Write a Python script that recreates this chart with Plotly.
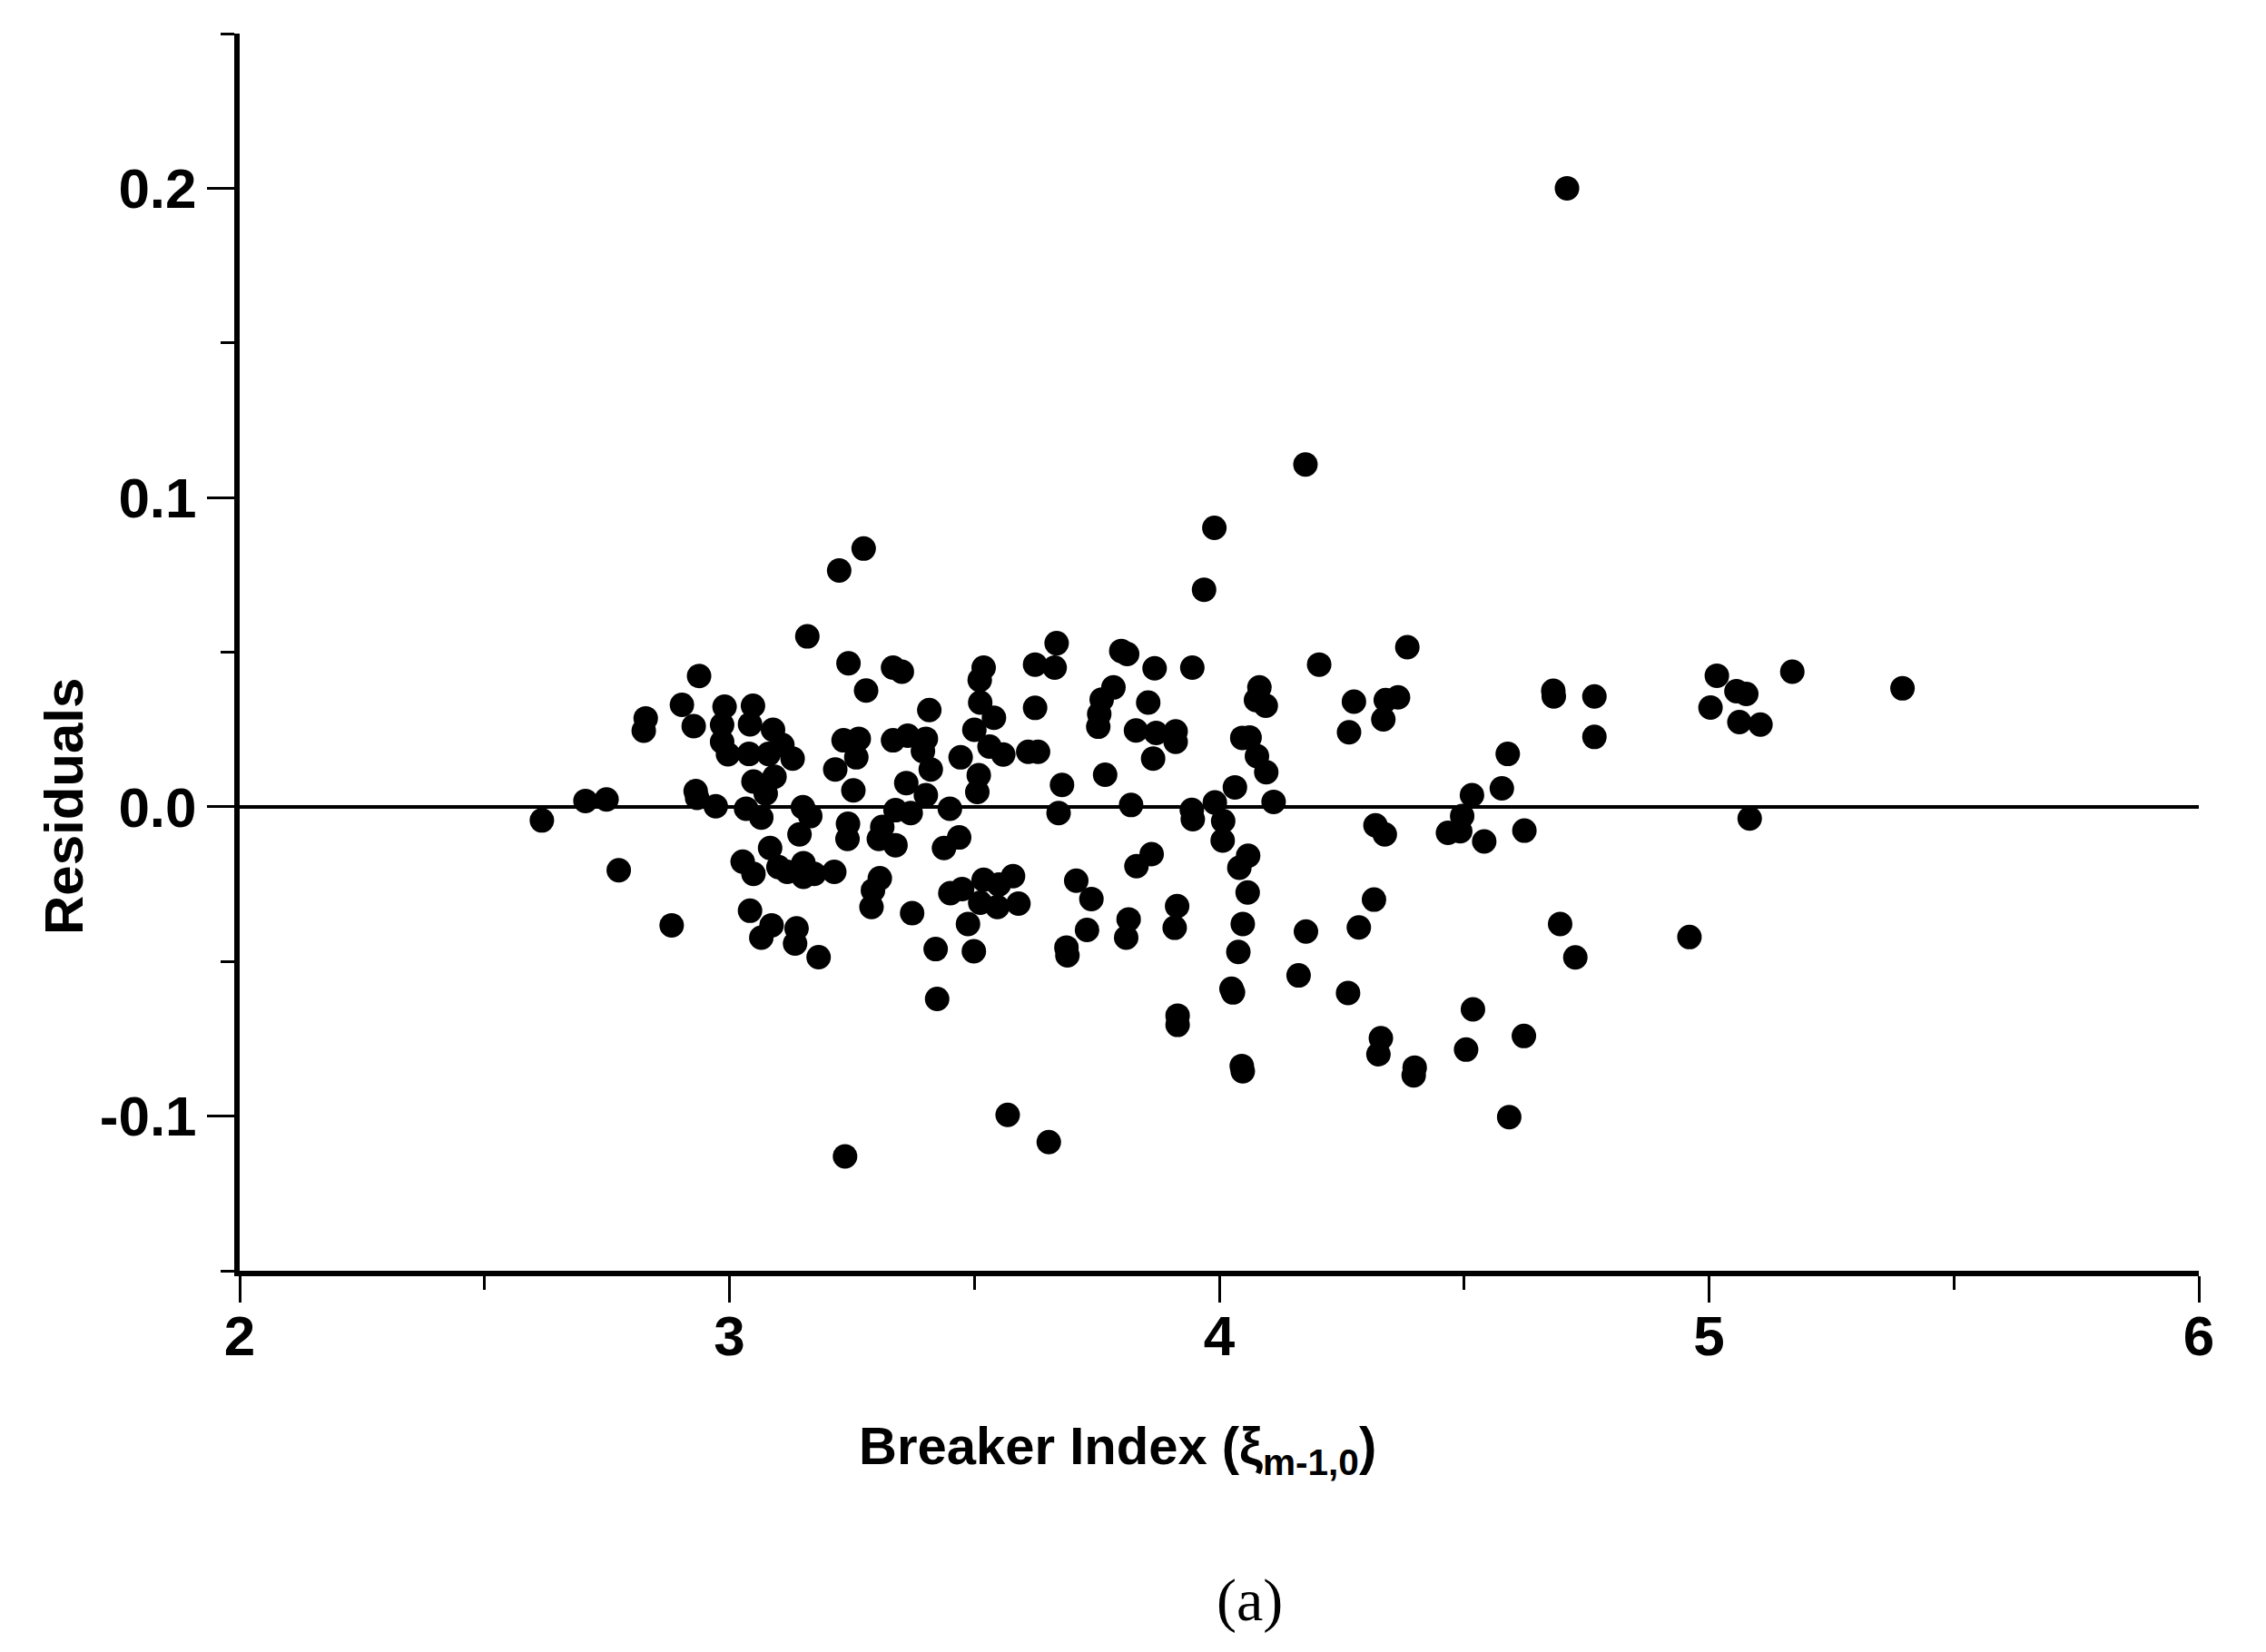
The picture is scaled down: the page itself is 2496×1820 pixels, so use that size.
import plotly.graph_objects as go

# Breaker index (x) and residuals (y)
breaker_index = [
    2.617, 2.706, 2.749, 2.774, 2.829, 2.825, 2.882, 2.903, 2.927, 2.938,
    2.931, 2.934, 2.972, 2.990, 2.985, 2.985, 2.997, 3.040, 3.048, 3.042,
    3.089, 3.108, 3.129, 3.080, 3.092, 3.049, 3.074, 3.034, 3.065, 3.150,
    3.165, 3.143, 3.159, 3.224, 3.274, 3.243, 3.279, 3.233, 3.264, 3.259,
    3.216, 3.253, 3.242, 3.241, 3.083, 3.027, 3.049, 3.100, 3.118, 3.151,
    3.151, 3.173, 3.214, 3.042, 3.086, 3.065, 3.137, 3.134, 3.182, 3.236,
    3.969, 3.668, 3.664, 3.624, 3.800, 3.812, 3.868, 3.945, 3.334, 3.352,
    3.519, 3.511, 3.512, 3.540, 3.500, 3.408, 3.624, 3.784, 3.760, 3.755,
    3.753, 3.855, 3.830, 3.871, 3.911, 3.911, 3.865, 3.767, 3.679, 3.672,
    3.820, 3.944, 3.946, 3.991, 4.008, 4.007, 3.334, 3.364, 3.401, 3.395,
    3.411, 3.361, 3.401, 3.339, 3.370, 3.450, 3.312, 3.305, 3.339, 3.469,
    3.438, 3.472, 3.531, 3.559, 3.509, 3.506, 3.610, 3.630, 3.862, 3.831,
    3.307, 3.293, 3.290, 3.373, 3.451, 3.475, 3.519, 3.550, 3.579, 3.512,
    3.547, 3.590, 3.487, 3.421, 3.499, 3.424, 3.568, 3.652, 3.708, 3.739,
    3.730, 3.688, 3.690, 3.815, 3.810, 3.914, 3.909, 3.915, 3.915,
    4.204, 4.384, 4.082, 4.075, 4.095, 4.275, 4.340, 4.365, 4.335, 4.265,
    4.047, 4.062, 4.077, 4.096, 4.032, 4.111, 4.059, 4.041, 4.319, 4.338,
    4.516, 4.496, 4.467, 4.492, 4.541, 4.577, 4.589, 4.623, 4.682, 4.683,
    4.058, 4.048, 4.039, 4.025, 4.028, 4.046, 4.048, 4.177, 4.162, 4.316,
    4.285, 4.263, 4.330, 4.325, 4.399, 4.397, 4.518, 4.504, 4.622, 4.592,
    4.696, 4.727, 4.766, 4.766, 5.016, 5.056, 5.076, 5.003, 5.062, 5.105,
    5.170, 5.395, 5.083, 4.960, 4.710, 4.176, 3.990,
]
residuals = [
    -0.0044, 0.0019, 0.0024, -0.0205, 0.0286, 0.0246, -0.0383, 0.0330, 0.0261, 0.0423,
    0.0051, 0.0029, 0.0002, 0.0324, 0.0265, 0.0210, 0.0170, 0.0171, 0.0327, 0.0267,
    0.0249, 0.0200, 0.0156, 0.0171, 0.0097, 0.0082, 0.0043, -0.0006, -0.0035, -0.0001,
    -0.0030, -0.0089, 0.0551, 0.0764, 0.0835, 0.0464, 0.0376, 0.0215, 0.0220, 0.0160,
    0.0121, 0.0053, -0.0055, -0.0104, -0.0133, -0.0177, -0.0217, -0.0195, -0.0210, -0.0182,
    -0.0226, -0.0217, -0.0210, -0.0336, -0.0383, -0.0423, -0.0393, -0.0442, -0.0486, -0.1130,
    0.0702, 0.0529, 0.0450, 0.0460, 0.0504, 0.0494, 0.0448, 0.0450, 0.0450, 0.0437,
    0.0450, 0.0410, 0.0337, 0.0288, 0.0249, 0.0313, 0.0320, 0.0386, 0.0347, 0.0300,
    0.0259, 0.0337, 0.0247, 0.0239, 0.0244, 0.0210, 0.0156, 0.0104, 0.0071, -0.0020,
    0.0006, -0.0010, -0.0040, 0.0014, -0.0046, -0.0109, 0.0215, 0.0230, 0.0220, 0.0180,
    0.0121, 0.0077, 0.0038, -0.0011, -0.0020, -0.0006, -0.0065, -0.0104, -0.0124, -0.0099,
    -0.0133, 0.0160, 0.0195, 0.0169, 0.0102, 0.0048, 0.0178, 0.0178, -0.0153, -0.0192,
    -0.0231, -0.0270, -0.0324, -0.0344, -0.0279, -0.0266, -0.0236, -0.0251, -0.0224, -0.0310,
    -0.0324, -0.0313, -0.0379, -0.0460, -0.0467, -0.0621, -0.0996, -0.1084, -0.0239, -0.0298,
    -0.0398, -0.0455, -0.0480, -0.0364, -0.0423, -0.0321, -0.0391, -0.0675, -0.0705,
    0.0460, 0.0516, 0.0386, 0.0345, 0.0327, 0.0340, 0.0345, 0.0354, 0.0283, 0.0241,
    0.0223, 0.0224, 0.0164, 0.0112, 0.0063, 0.0016, -0.0158, -0.0197, -0.0060, -0.0089,
    0.0038, -0.0030, -0.0084, -0.0079, -0.0112, 0.0060, 0.0171, -0.0077, 0.0375, 0.0357,
    -0.0277, -0.0379, -0.0469, -0.0588, -0.0600, -0.0838, -0.0855, -0.0403, -0.0545, -0.0300,
    -0.0390, -0.0602, -0.0748, -0.0800, -0.0843, -0.0868, -0.0655, -0.0785, -0.0741, -0.1003,
    -0.0379, -0.0487, 0.0357, 0.0226, 0.0424, 0.0374, 0.0365, 0.0321, 0.0274, 0.0266,
    0.0437, 0.0383, -0.0038, -0.0421, 0.2000, 0.1107, 0.0902,
]

x_ticks = [2, 3, 4, 5, 6]
x_tick_labels = ["2", "3", "4", "5", "6"]
x_minor = [2.5, 3.5, 4.5, 5.5]
y_ticks = [-0.1, 0.0, 0.1, 0.2]
y_tick_labels = ["-0.1", "0.0", "0.1", "0.2"]
y_minor = [-0.15, -0.05, 0.05, 0.15, 0.25]

x_title = "Breaker Index (ξ<sub>m-1,0</sub>)"
y_title = "Residuals"
caption = "(a)"

fig = go.Figure()
fig.add_trace(go.Scatter(
    x=breaker_index, y=residuals, mode="markers",
    marker=dict(size=27, color="black", line=dict(width=0)),
    showlegend=False, hoverinfo="x+y",
))

sans = "Liberation Sans, Arial, sans-serif"

fig.update_layout(
    width=2480, height=1804,
    margin=dict(l=256, r=66, t=29, b=412, pad=0),
    plot_bgcolor="white", paper_bgcolor="white",
    xaxis=dict(
        range=[2, 6], tickmode="array", tickvals=x_ticks, ticktext=x_tick_labels,
        ticks="outside", ticklen=29, tickwidth=3, tickcolor="black",
        minor=dict(tickmode="array", tickvals=x_minor, ticks="outside", ticklen=15,
                   tickwidth=3, tickcolor="black", showgrid=False),
        showline=True, linewidth=6, linecolor="black", showgrid=False, zeroline=False,
        tickfont=dict(family=sans, size=62, color="black", weight="bold"),
        ticklabelstandoff=-16,
    ),
    yaxis=dict(
        range=[-0.15, 0.25], tickmode="array", tickvals=y_ticks, ticktext=y_tick_labels,
        ticks="outside", ticklen=30, tickwidth=3, tickcolor="black",
        minor=dict(tickmode="array", tickvals=y_minor, ticks="outside", ticklen=15,
                   tickwidth=3, tickcolor="black", showgrid=False),
        showline=True, linewidth=6, linecolor="black", showgrid=False,
        zeroline=True, zerolinecolor="black", zerolinewidth=4,
        tickfont=dict(family=sans, size=62, color="black", weight="bold"),
        ticklabelstandoff=-1,
    ),
    annotations=[
        dict(text=x_title, xref="paper", yref="paper", x=0.448, y=-0.1445,
             xanchor="center", yanchor="middle", showarrow=False,
             font=dict(family=sans, size=58, color="black", weight="bold")),
        dict(text=y_title, xref="paper", yref="paper", x=-0.0899, y=0.3756,
             xanchor="center", yanchor="middle", showarrow=False, textangle=-90,
             font=dict(family=sans, size=60, color="black", weight="bold")),
        dict(text=caption, xref="paper", yref="paper", x=0.5157, y=-0.266,
             xanchor="center", yanchor="middle", showarrow=False,
             font=dict(family="Liberation Serif, Times New Roman, serif", size=66, color="black")),
    ],
)

fig.write_html("out.html")
